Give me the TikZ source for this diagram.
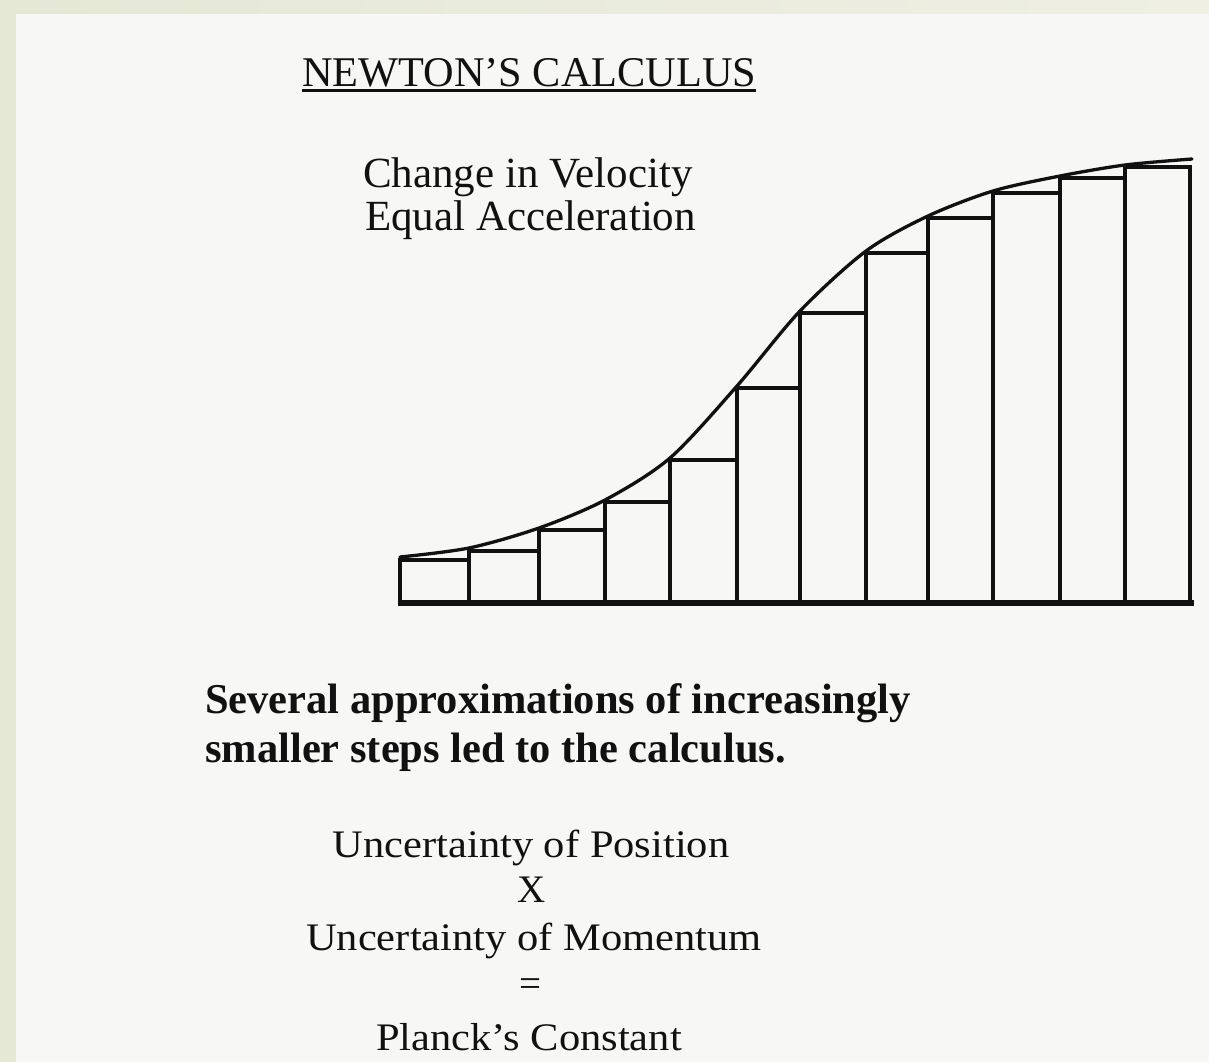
\documentclass[tikz,border=0pt]{standalone}
\usepackage{graphicx}
\usepackage{fontspec}
\setmainfont{Liberation Serif}
\usetikzlibrary{positioning}
\definecolor{ink}{HTML}{111111}
\definecolor{paper}{HTML}{F7F7F5}
\definecolor{frame}{HTML}{E5E8D5}
\definecolor{framelt}{HTML}{EFEFE4}
\tikzset{
  headline/.style={anchor=base west, inner sep=0pt, font=\fontsize{42.3}{45}\selectfont, text=ink},
  caption/.style={anchor=base west, inner sep=0pt, font=\fontsize{43}{45}\selectfont, text=ink},
  boldnote/.style={anchor=base west, inner sep=0pt, font=\bfseries\fontsize{42.5}{45}\selectfont, text=ink},
  eqline/.style={anchor=base, inner sep=0pt, font=\fontsize{39}{41}\selectfont, text=ink},
  bar/.style={draw=ink, line width=3.3pt, line join=miter},
  curve/.style={draw=ink, line width=3.3pt, line cap=round},
  axisline/.style={draw=ink, line width=5.5pt},
  underline/.style={draw=ink, line width=2.6pt},
}
\newcommand{\wider}[1]{\scalebox{1.09}[1]{#1}}

\begin{document}
\begin{tikzpicture}[x=1pt, y=-1pt]
  \useasboundingbox (0,0) rectangle (1209,1062);
  \fill[paper] (0,0) rectangle (1209,1062);
  \shade[left color=frame, right color=framelt] (0,0) rectangle (1209,14);
  \fill[frame] (0,0) rectangle (16,1062);

  % heading
  \node[headline] (title) at (302,87) {NEWTON'S CALCULUS};
  \draw[underline] ([yshift=-3.5pt]title.base west) -- ([yshift=-3.5pt]title.base east);
  \node[caption] (change) at (363,187) {Change in Velocity};
  \node[caption] (accel) at (365,230) {Equal Acceleration};

  % steps under the curve
  \foreach \xa/\xb/\h in {400/469/560, 469/539/551, 539/605/530, 605/670/502,
      670/737/460, 737/800/388, 800/866/313, 866/928/253, 928/993/218,
      993/1060/193, 1060/1125/178, 1125/1190/167}
    \draw[bar] (\xa,603) rectangle (\xb,\h);
  \draw[curve] plot[smooth] coordinates {(400,557) (469,548) (539,528) (605,500)
      (670,458) (737,386) (800,311) (866,251) (928,216) (993,191) (1060,176)
      (1125,165) (1192,159)};
  \draw[axisline] (398,603) -- (1194,603);

  % text below
  \node[boldnote] (note1) at (205,713) {Several approximations of increasingly};
  \node[boldnote] (note2) at (205,762) {smaller steps led to the calculus.};

  \node[eqline] (pos) at (531,857) {\wider{Uncertainty of Position}};
  \node[eqline] (times) at (532,902) {X};
  \node[eqline] (mom) at (534,950) {\wider{Uncertainty of Momentum}};
  \node[eqline] (equals) at (530,996) {=};
  \node[eqline] (planck) at (529,1050) {\wider{Planck's Constant}};
\end{tikzpicture}
\end{document}
